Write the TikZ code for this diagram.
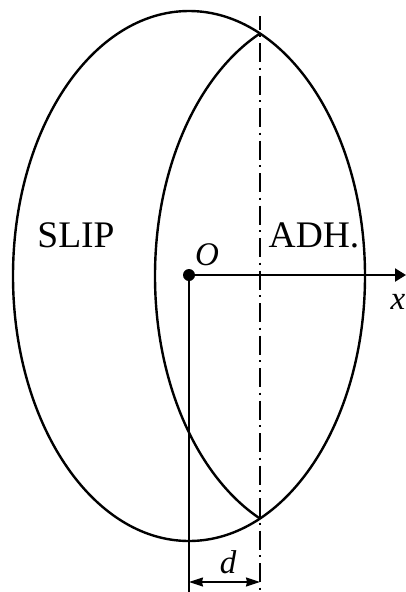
\documentclass[tikz,border=0pt]{standalone}
\usepackage{fontspec}
\setmainfont{Liberation Serif}
\usetikzlibrary{arrows.meta}
\begin{document}
\begin{tikzpicture}[x=1pt,y=-1pt,
  contour/.style={line width=2.4pt},
  axisline/.style={line width=2.2pt,-{Triangle[length=11pt,width=13pt]}},
  thinline/.style={line width=1.2pt},
  centerline/.style={line width=1.5pt,dash pattern=on 19pt off 5.5pt on 2pt off 6pt,dash phase=5.5pt},
  dimline/.style={line width=1.2pt,{Stealth[length=14pt,width=9pt,inset=1pt]}-{Stealth[length=14pt,width=9pt,inset=1pt]}},
  region/.style={font=\fontsize{37.5}{37.5}\selectfont,inner sep=0pt},
  sym/.style={font=\fontsize{33}{33}\selectfont\itshape,inner sep=0pt}]
\useasboundingbox (0,0) rectangle (406,592);
% big ellipse (full contact area)
\coordinate (C1) at (189,276);
\coordinate (C2) at (331,276);
\draw[contour] (C1) ellipse [x radius=176pt, y radius=265pt];
% inner arc (shifted ellipse, left part)
\begin{scope}
  \clip (0,0) rectangle (260,592);
  \draw[contour] (C2) ellipse [x radius=176pt, y radius=265pt];
\end{scope}
% centre line
\coordinate (ctop) at (260,16);
\coordinate (cbot) at (260,590);
\draw[centerline] (ctop) -- (cbot);
% axis
\coordinate (O) at (189,275);
\coordinate (xend) at (406,275);
\draw[axisline] (O) -- (xend);
\fill (O) circle [radius=6pt];
% vertical from O
\coordinate (obot) at (189,592);
\draw[thinline] (O) -- (obot);
% dimension d
\coordinate (dl) at (189,582);
\coordinate (dr) at (260,582);
\draw[dimline] (dl) -- (dr);
% labels
\node[region] (slip) at (76,235) {SLIP};
\node[region] (adh) at (314,235) {ADH.};
\node[sym] (olab) at (207,255) {O};
\node[sym] (xlab) at (398,302) {x};
\node[sym] (dlab) at (228,562) {d};
\end{tikzpicture}
\end{document}
